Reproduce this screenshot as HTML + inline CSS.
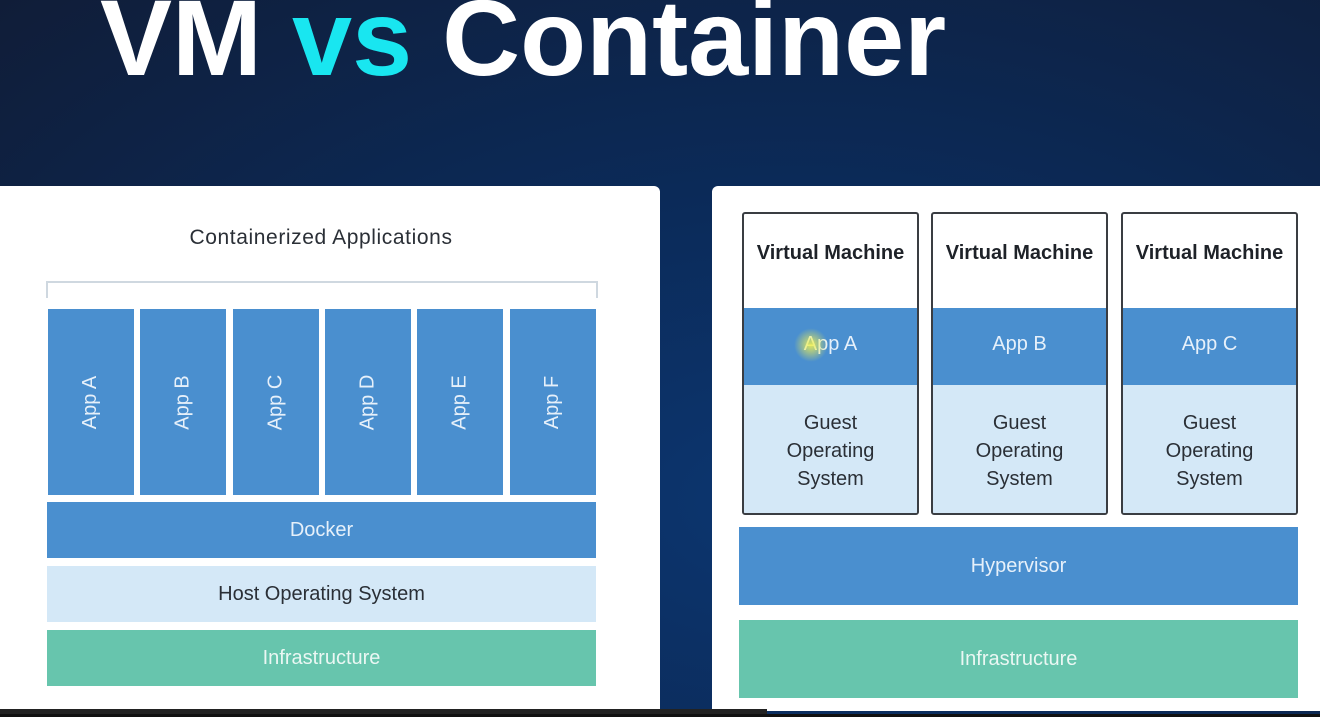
<!DOCTYPE html>
<html><head><style>
body{margin:0;width:1320px;height:717px;overflow:hidden;position:relative;font-family:"Liberation Sans",sans-serif;
background:radial-gradient(ellipse at 60% 70%,#0c3670 0%,#0b2a58 45%,#101d38 100%);}
div{position:absolute;box-sizing:border-box}
.c{display:flex;align-items:center;justify-content:center;text-align:center}
.blue{background:#4a8fcf;color:#e6f0fa;font-size:20px}
.light{background:#d4e8f7;color:#2a2f36;font-size:20px}
.green{background:#67c5ad;color:#eaf7f3;font-size:20px}
.app{top:309px;height:186px;width:86px}
.app span{transform:rotate(-90deg);white-space:nowrap}
.vm{top:212px;width:177px;height:303px;border:2px solid #3a3d42;border-radius:3px;background:#fff;overflow:hidden}
</style></head><body>
<div style="left:100px;top:-27px;font-size:108px;font-weight:bold;color:#fff;letter-spacing:0px;line-height:130px;white-space:nowrap">VM <span style="color:#19e6f0">vs</span> Container</div>

<div style="left:0;top:186px;width:660px;height:523px;background:#fff;border-radius:0 6px 0 0"></div>
<div style="left:712px;top:186px;width:608px;height:525px;background:#fff;border-radius:6px 0 0 0"></div>

<div class="c" style="left:0;top:224px;width:642px;height:28px;font-size:21px;letter-spacing:0.6px;color:#2a2f36">Containerized Applications</div>
<div style="left:46px;top:281px;width:552px;height:17px;border:2px solid #cfd8e0;border-bottom:none"></div>
<div class="c blue app" style="left:48px"><span>App A</span></div>
<div class="c blue app" style="left:140px"><span>App B</span></div>
<div class="c blue app" style="left:233px"><span>App C</span></div>
<div class="c blue app" style="left:325px"><span>App D</span></div>
<div class="c blue app" style="left:417px"><span>App E</span></div>
<div class="c blue app" style="left:510px"><span>App F</span></div>
<div class="c blue" style="left:47px;top:502px;width:549px;height:56px">Docker</div>
<div class="c light" style="left:47px;top:566px;width:549px;height:56px">Host Operating System</div>
<div class="c green" style="left:47px;top:630px;width:549px;height:56px">Infrastructure</div>

<div class="vm" style="left:742px">
 <div class="c" style="left:0;top:0;width:100%;height:78px;font-weight:bold;font-size:20px;color:#1e2228;white-space:nowrap">Virtual Machine</div>
 <div class="c blue" style="left:0;top:94px;width:100%;height:77px;padding-bottom:4px">App A</div>
 <div class="c light" style="left:0;top:171px;width:100%;height:132px;line-height:28px">Guest<br>Operating<br>System</div>
</div>
<div class="vm" style="left:931px">
 <div class="c" style="left:0;top:0;width:100%;height:78px;font-weight:bold;font-size:20px;color:#1e2228;white-space:nowrap">Virtual Machine</div>
 <div class="c blue" style="left:0;top:94px;width:100%;height:77px;padding-bottom:4px">App B</div>
 <div class="c light" style="left:0;top:171px;width:100%;height:132px;line-height:28px">Guest<br>Operating<br>System</div>
</div>
<div class="vm" style="left:1121px">
 <div class="c" style="left:0;top:0;width:100%;height:78px;font-weight:bold;font-size:20px;color:#1e2228;white-space:nowrap">Virtual Machine</div>
 <div class="c blue" style="left:0;top:94px;width:100%;height:77px;padding-bottom:4px">App C</div>
 <div class="c light" style="left:0;top:171px;width:100%;height:132px;line-height:28px">Guest<br>Operating<br>System</div>
</div>
<div style="left:794px;top:328px;width:34px;height:34px;border-radius:50%;background:radial-gradient(circle,rgba(240,240,80,.9),rgba(240,240,80,0) 70%)"></div>
<div class="c blue" style="left:739px;top:527px;width:559px;height:78px">Hypervisor</div>
<div class="c green" style="left:739px;top:620px;width:559px;height:78px">Infrastructure</div>

<div style="left:0;top:709px;width:767px;height:8px;background:#222"></div>
<div style="left:0;top:714px;width:1320px;height:3px;background:#111"></div>
</body></html>
